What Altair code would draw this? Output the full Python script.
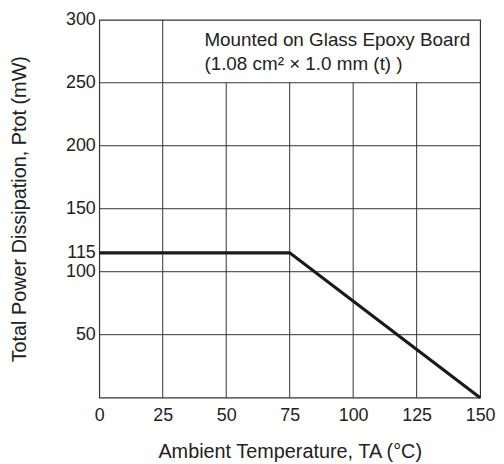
import altair as alt
import pandas as pd

# Derating curve
temp = [0, 75, 150]
power = [115, 115, 0]

x_ticks = [0, 25, 50, 75, 100, 125, 150]
y_ticks = [50, 100, 115, 150, 200, 250, 300]

# grid lines
h_grid = [50, 100, 150, 200, 250]
v_grid_full = [25]
v_grid_short = [50, 75, 100, 125]

FONT = "Liberation Sans"
GRID = "#333333"
TXT = "#222222"
LFS = 18
TFS = 20

curve = pd.DataFrame({"t": temp, "p": power})
hg = pd.DataFrame({"y": h_grid, "x0": 0, "x1": 150})
vg = pd.DataFrame({"x": v_grid_full + v_grid_short,
                   "y0": 0,
                   "y1": [300] * len(v_grid_full) + [250] * len(v_grid_short)})

xs = alt.Scale(domain=[0, 150], nice=False, zero=False)
ys = alt.Scale(domain=[0, 300], nice=False, zero=False)

hrules = alt.Chart(hg).mark_rule(color=GRID, strokeWidth=1).encode(
    x=alt.X("x0:Q", scale=xs, axis=alt.Axis(
        values=x_ticks, title="Ambient Temperature, TA (°C)", grid=False, ticks=False,
        domain=False, labelPadding=9, titlePadding=17, labelFontSize=LFS, titleFontSize=TFS,
        labelFont=FONT, titleFont=FONT, titleFontWeight="normal", labelColor=TXT,
        titleColor=TXT, labelFlush=False)),
    x2="x1:Q",
    y=alt.Y("y:Q", scale=ys, axis=alt.Axis(
        values=y_ticks, title="Total Power Dissipation, Ptot (mW)", grid=False, ticks=False,
        domain=False, labelPadding=4, titlePadding=36, labelFontSize=LFS, titleFontSize=TFS,
        labelFont=FONT, titleFont=FONT, titleFontWeight="normal", labelColor=TXT,
        titleColor=TXT, labelFlush=False, labelOverlap=False)),
)

vrules = alt.Chart(vg).mark_rule(color=GRID, strokeWidth=1).encode(
    x=alt.X("x:Q", scale=xs),
    y=alt.Y("y0:Q", scale=ys),
    y2="y1:Q",
)

line = alt.Chart(curve).mark_line(color="#1a1a1a", strokeWidth=3.2).encode(
    x=alt.X("t:Q", scale=xs),
    y=alt.Y("p:Q", scale=ys),
)

note1 = alt.Chart(pd.DataFrame({"s": ["Mounted on Glass Epoxy Board"]})).mark_text(
    align="left", baseline="middle", font=FONT, fontSize=19, color=TXT
).encode(x=alt.value(106), y=alt.value(20), text="s:N")

note2 = alt.Chart(pd.DataFrame({"s": ["(1.08 cm² × 1.0 mm (t) )"]})).mark_text(
    align="left", baseline="middle", font=FONT, fontSize=19, color=TXT
).encode(x=alt.value(106), y=alt.value(45), text="s:N")

chart = alt.layer(hrules, vrules, line, note1, note2).properties(
    width=384, height=381,
    autosize=alt.AutoSizeParams(type="none"),
    padding={"left": 92, "top": 10, "right": 16, "bottom": 64},
    background="white",
).configure_view(stroke=GRID, strokeWidth=1.2)

chart.save("out.html", embed_options={"renderer": "svg", "actions": False})
